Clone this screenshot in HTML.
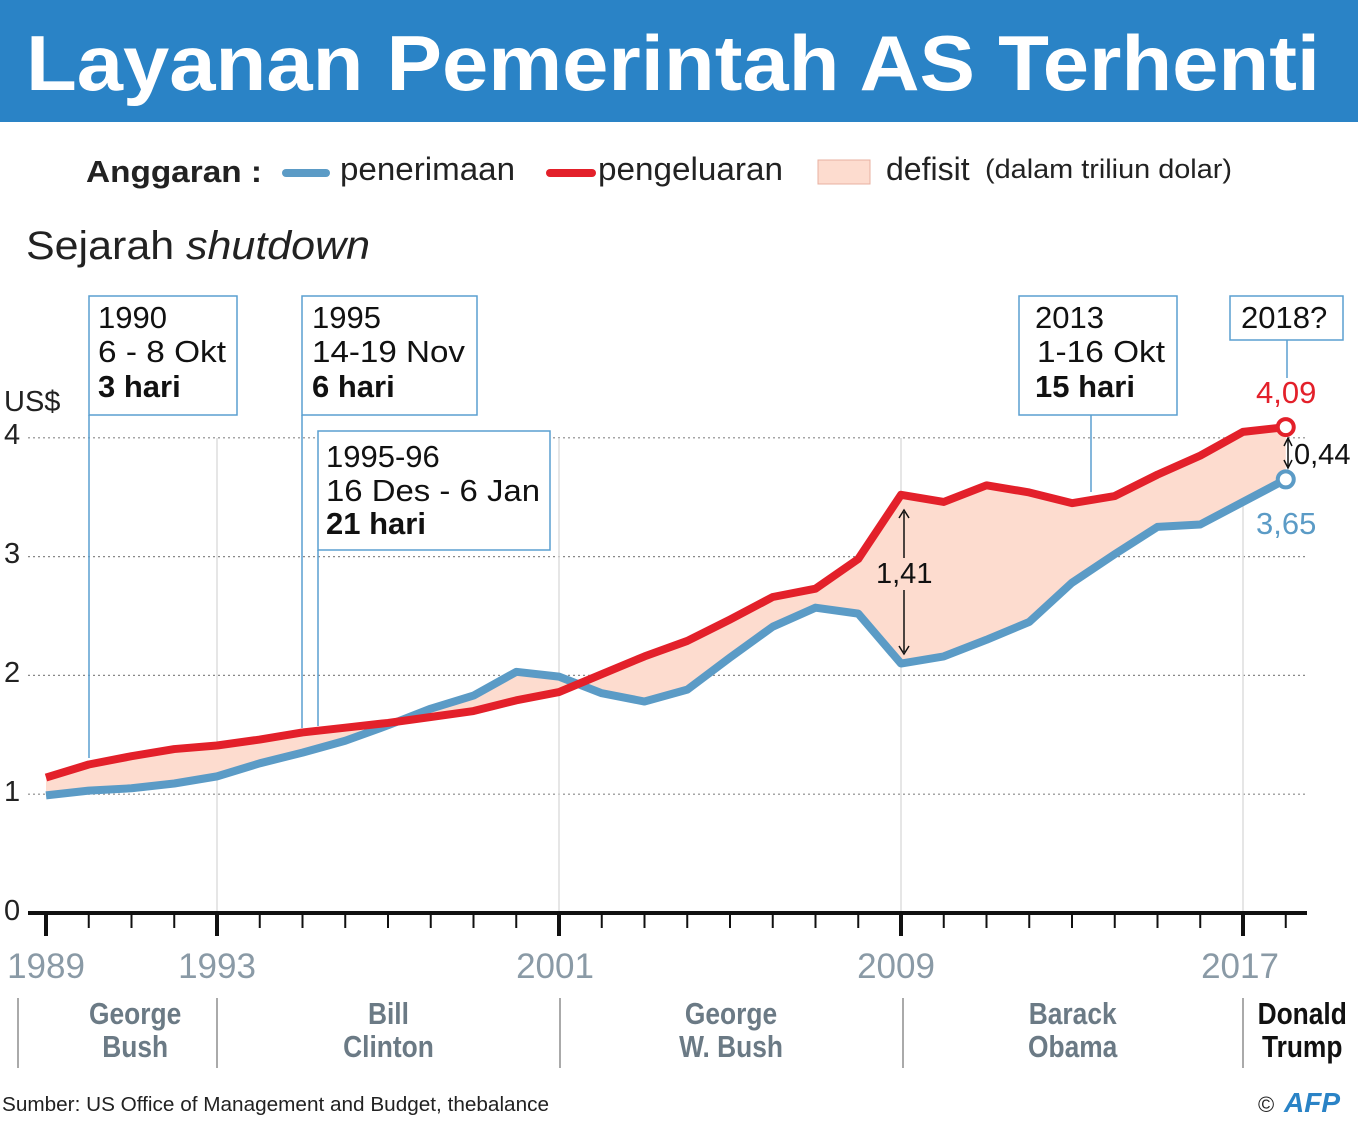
<!DOCTYPE html>
<html><head><meta charset="utf-8">
<style>
body{margin:0;width:1358px;height:1116px;background:#fff;overflow:hidden;font-family:"Liberation Sans",sans-serif}
</style></head><body>
<svg id="s" width="1358" height="1116" xmlns="http://www.w3.org/2000/svg" font-family="Liberation Sans, sans-serif">
<rect x="0" y="0" width="1358" height="122" fill="#2a83c6"/>
<text x="26" y="90" font-size="78" font-weight="bold" fill="#fff" textLength="1294" lengthAdjust="spacingAndGlyphs">Layanan Pemerintah AS Terhenti</text>
<text x="86" y="182" font-size="31" font-weight="bold" fill="#222" textLength="176" lengthAdjust="spacingAndGlyphs">Anggaran :</text>
<line x1="286" y1="173" x2="326" y2="173" stroke="#5b9bc6" stroke-width="8" stroke-linecap="round"/>
<text x="340" y="180" font-size="32" fill="#222" textLength="175" lengthAdjust="spacingAndGlyphs">penerimaan</text>
<line x1="550" y1="173" x2="592" y2="173" stroke="#e3202a" stroke-width="8" stroke-linecap="round"/>
<text x="598" y="180" font-size="32" fill="#222" textLength="185" lengthAdjust="spacingAndGlyphs">pengeluaran</text>
<rect x="818" y="160" width="52" height="24" fill="#fddccf" stroke="#e8b0a0" stroke-width="1"/>
<text x="886" y="180" font-size="32" fill="#222">defisit</text>
<text x="985" y="178" font-size="27" fill="#222" textLength="247" lengthAdjust="spacingAndGlyphs">(dalam triliun dolar)</text>
<text x="26" y="259" font-size="40" fill="#222" textLength="344" lengthAdjust="spacingAndGlyphs">Sejarah <tspan font-style="italic">shutdown</tspan></text>
<g id="grid"></g>
<g id="chart"></g>
<text x="4" y="411" font-size="29" fill="#222">US$</text>
<text x="4" y="444" font-size="29" fill="#222">4</text>
<text x="4" y="563" font-size="29" fill="#222">3</text>
<text x="4" y="682" font-size="29" fill="#222">2</text>
<text x="4" y="801" font-size="29" fill="#222">1</text>
<text x="4" y="920" font-size="29" fill="#222">0</text>
<g font-size="35" fill="#8a9aa6">
<text x="46" y="978" text-anchor="middle">1989</text>
<text x="217" y="978" text-anchor="middle">1993</text>
<text x="555" y="978" text-anchor="middle">2001</text>
<text x="896" y="978" text-anchor="middle">2009</text>
<text x="1240" y="978" text-anchor="middle">2017</text>
</g>
<g stroke="#aaa" stroke-width="2">
<line x1="18" y1="998" x2="18" y2="1068"/><line x1="217" y1="998" x2="217" y2="1068"/>
<line x1="560" y1="998" x2="560" y2="1068"/><line x1="903" y1="998" x2="903" y2="1068"/>
<line x1="1243" y1="998" x2="1243" y2="1068"/>
</g>
<g font-size="31" font-weight="bold" fill="#6b7a85" text-anchor="middle" transform="scale(0.85,1)">
<text x="159" y="1024">George</text><text x="159" y="1057">Bush</text>
<text x="457" y="1024">Bill</text><text x="457" y="1057">Clinton</text>
<text x="860" y="1024">George</text><text x="860" y="1057">W. Bush</text>
<text x="1262" y="1024">Barack</text><text x="1262" y="1057">Obama</text>
<text x="1532" y="1024" fill="#111">Donald</text><text x="1532" y="1057" fill="#111">Trump</text>
</g>
<text x="2" y="1111" font-size="20" fill="#222" textLength="547" lengthAdjust="spacingAndGlyphs">Sumber: US Office of Management and Budget, thebalance</text>
<text x="1258" y="1112" font-size="22" fill="#222">©</text>
<text x="1284" y="1112" font-size="28" font-weight="bold" font-style="italic" fill="#2a83c6">AFP</text>
<g fill="#fff" stroke="#5a9fd0" stroke-width="1.5">
<line x1="89" y1="415" x2="89" y2="758"/>
<line x1="302" y1="415" x2="302" y2="728"/>
<line x1="318" y1="550" x2="318" y2="726"/>
<line x1="1091" y1="415" x2="1091" y2="492"/>
<line x1="1287" y1="340" x2="1287" y2="378"/>
<rect x="89" y="296" width="148" height="119"/>
<rect x="302" y="296" width="175" height="119"/>
<rect x="318" y="431" width="232" height="119"/>
<rect x="1019" y="296" width="158" height="119"/>
<rect x="1230" y="296" width="113" height="44"/>
</g>
<g font-size="31" fill="#111">
<text x="98" y="328">1990</text><text x="98" y="362" textLength="128" lengthAdjust="spacingAndGlyphs">6 - 8 Okt</text><text x="98" y="397" font-weight="bold">3 hari</text>
<text x="312" y="328">1995</text><text x="312" y="362" textLength="153" lengthAdjust="spacingAndGlyphs">14-19 Nov</text><text x="312" y="397" font-weight="bold">6 hari</text>
<text x="326" y="467">1995-96</text><text x="326" y="501" textLength="214" lengthAdjust="spacingAndGlyphs">16 Des - 6 Jan</text><text x="326" y="534" font-weight="bold">21 hari</text>
<text x="1035" y="328">2013</text><text x="1037" y="362" textLength="128" lengthAdjust="spacingAndGlyphs">1-16 Okt</text><text x="1035" y="397" font-weight="bold">15 hari</text>
<text x="1241" y="328">2018?</text>
</g>
<text x="1256" y="403" font-size="31" fill="#e3202a">4,09</text>
<text x="1256" y="534" font-size="31" fill="#5b9bc6">3,65</text>
<text x="1294" y="464" font-size="29" fill="#111">0,44</text>
<text x="876" y="583" font-size="29" fill="#111">1,41</text>
<g stroke="#111" stroke-width="1.5">
<line x1="904" y1="512" x2="904" y2="558"/><line x1="904" y1="590" x2="904" y2="652"/>
<path d="M899 518 L904 510 L909 518 M899 646 L904 654 L909 646" fill="none"/>
<line x1="1288" y1="440" x2="1288" y2="466"/>
<path d="M1284 446 L1288 438 L1292 446 M1284 460 L1288 468 L1292 460" fill="none"/>
</g>
</svg>
<script>
var R=[0.99,1.03,1.05,1.09,1.15,1.26,1.35,1.45,1.58,1.72,1.83,2.03,1.99,1.85,1.78,1.88,2.15,2.41,2.57,2.52,2.10,2.16,2.30,2.45,2.78,3.02,3.25,3.27,3.46,3.65];
var O=[1.14,1.25,1.32,1.38,1.41,1.46,1.52,1.56,1.60,1.65,1.70,1.79,1.86,2.01,2.16,2.29,2.47,2.66,2.73,2.98,3.52,3.46,3.60,3.54,3.45,3.51,3.69,3.85,4.05,4.09];
function X(i){return 46+i*42.75}function Y(v){return 913-v*118.8}
var ns="http://www.w3.org/2000/svg";
function el(p,t,a){var e=document.createElementNS(ns,t);for(var k in a)e.setAttribute(k,a[k]);p.appendChild(e);return e}
var g=document.getElementById('grid'),c=document.getElementById('chart');
[1,2,3,4].forEach(function(v){el(g,'line',{x1:28,x2:1307,y1:Y(v),y2:Y(v),stroke:'#888','stroke-width':1.2,'stroke-dasharray':'2,3'})});
[4,12,20,28].forEach(function(i){el(g,'line',{x1:X(i),x2:X(i),y1:438,y2:913,stroke:'#ddd','stroke-width':1.5})});
var po='',pr='';for(var i=0;i<30;i++){po+=(i?'L':'M')+X(i)+' '+Y(O[i])+' ';}
for(var i=29;i>=0;i--){pr+='L'+X(i)+' '+Y(R[i])+' ';}
el(c,'path',{d:po+pr+'Z',fill:'#fddccf'});
var pR='';for(var i=0;i<30;i++)pR+=(i?'L':'M')+X(i)+' '+Y(R[i])+' ';
el(c,'path',{d:pR,fill:'none',stroke:'#5b9bc6','stroke-width':8,'stroke-linejoin':'round'});
el(c,'path',{d:po,fill:'none',stroke:'#e3202a','stroke-width':8,'stroke-linejoin':'round'});
el(c,'circle',{cx:X(29),cy:Y(O[29]),r:8,fill:'#fff',stroke:'#e3202a','stroke-width':4});
el(c,'circle',{cx:X(29),cy:Y(R[29]),r:8,fill:'#fff',stroke:'#5b9bc6','stroke-width':4});
el(c,'line',{x1:28,x2:1307,y1:913,y2:913,stroke:'#111','stroke-width':4});
var maj=[0,4,12,20,28];
for(var i=0;i<30;i++){var m=maj.indexOf(i)>=0;el(c,'line',{x1:X(i),x2:X(i),y1:913,y2:m?936:928,stroke:'#111','stroke-width':m?4:2});}
</script>
</body></html>
